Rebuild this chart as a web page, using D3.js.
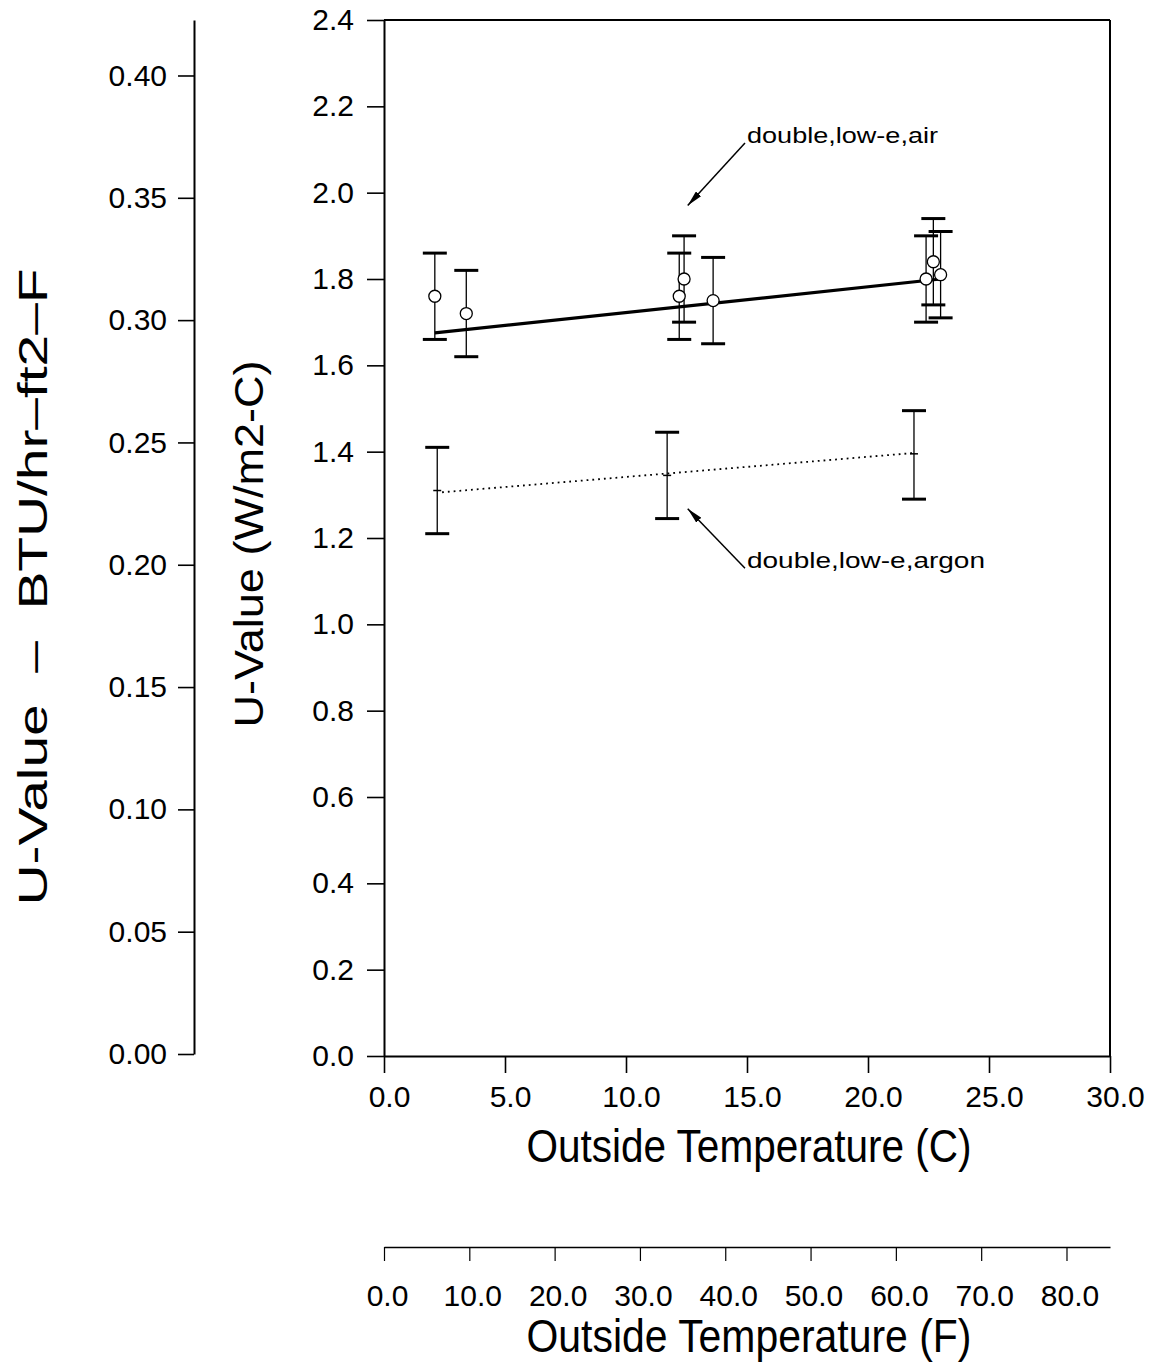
<!DOCTYPE html>
<html>
<head>
<meta charset="utf-8">
<script src="https://cdn.jsdelivr.net/npm/d3@7"></script>
<style>
  body { margin: 0; background: #fff; }
  text { font-family: "Liberation Sans", Arial, sans-serif; fill: #000; }
</style>
</head>
<body>
<div id="chart"></div>
<script>
// measured points, double glazing low-e with air fill
const airTempC = [2.1, 3.4, 12.2, 12.4, 13.6, 22.4, 22.7, 23.0];
const airU     = [1.76, 1.72, 1.76, 1.80, 1.75, 1.80, 1.84, 1.81];
const airLow   = [1.66, 1.62, 1.66, 1.70, 1.65, 1.70, 1.74, 1.71];
const airHigh  = [1.86, 1.82, 1.86, 1.90, 1.85, 1.90, 1.94, 1.91];
const airFitT  = [2.1, 23.0];
const airFitU  = [1.675, 1.80];

// double glazing low-e with argon fill
const argonTempC = [2.2, 11.7, 21.9];
const argonU     = [1.31, 1.345, 1.395];
const argonLow   = [1.21, 1.245, 1.29];
const argonHigh  = [1.41, 1.445, 1.495];
const argonFitT  = [2.4, 21.9];
const argonFitU  = [1.306, 1.397];

const tempCTicks = [0, 5, 10, 15, 20, 25, 30];
const tempFTicks = [0, 10, 20, 30, 40, 50, 60, 70, 80];
const uTicks = [0, 0.2, 0.4, 0.6, 0.8, 1.0, 1.2, 1.4, 1.6, 1.8, 2.0, 2.2, 2.4];
const btuTicks = [0, 0.05, 0.10, 0.15, 0.20, 0.25, 0.30, 0.35, 0.40];

const labelText = ["double,low-e,air", "double,low-e,argon"];
const labelAtT  = [15.0, 15.0];
const labelAtU  = [2.115, 1.13];
const arrowToT  = [12.55, 12.55];
const arrowToU  = [1.97, 1.268];

const W_PER_BTU = 5.678;

const width = 1164, height = 1363;

const svg = d3.select("#chart").append("svg")
    .attr("width", width)
    .attr("height", height)
    .style("background", "#fff");

const x = d3.scaleLinear().domain([0, 30]).range([384, 1110]);
const y = d3.scaleLinear().domain([0, 2.4]).range([1056, 20]);
const yBtu = d3.scaleLinear().domain([0, 2.4 / W_PER_BTU]).range([1054, 20]);
const xF = d3.scaleLinear().domain([0, 85.1]).range([384, 1110]);

function styleAxis(g, size) {
    g.select(".domain").attr("stroke", "#000").attr("stroke-width", 2);
    g.selectAll(".tick line").attr("stroke", "#000").attr("stroke-width", 1.6);
    g.selectAll(".tick text")
        .style("font-family", "'Liberation Sans', Arial, sans-serif")
        .style("font-size", size + "px")
        .attr("fill", "#000");
}

// main U axis (W/m2-C)
svg.append("g")
    .attr("transform", `translate(${x(0)},0)`)
    .call(d3.axisLeft(y).tickValues(uTicks).tickFormat(d3.format(".1f"))
        .tickSize(17).tickSizeOuter(0).tickPadding(13))
    .call(g => styleAxis(g, 30));

// temperature C axis
svg.append("g")
    .attr("transform", `translate(0,${y(0)})`)
    .call(d3.axisBottom(x).tickValues(tempCTicks).tickFormat(d3.format(".1f"))
        .tickSize(17).tickSizeOuter(0).tickPadding(13))
    .call(g => styleAxis(g, 30))
    .call(g => g.selectAll(".tick text").attr("dx", 5));

// top and right frame
svg.append("line")
    .attr("x1", x(0)).attr("x2", x(30))
    .attr("y1", y(2.4)).attr("y2", y(2.4))
    .attr("stroke", "#000").attr("stroke-width", 2);
svg.append("line")
    .attr("x1", x(30)).attr("x2", x(30))
    .attr("y1", y(2.4)).attr("y2", y(0))
    .attr("stroke", "#000").attr("stroke-width", 2);

// BTU axis on far left
svg.append("g")
    .attr("transform", "translate(194,0)")
    .call(d3.axisLeft(yBtu).tickValues(btuTicks).tickFormat(d3.format(".2f"))
        .tickSize(16).tickSizeOuter(0).tickPadding(11))
    .call(g => styleAxis(g, 30));

// temperature F axis underneath
svg.append("g")
    .attr("transform", "translate(0,1247)")
    .call(d3.axisBottom(xF).tickValues(tempFTicks).tickFormat(d3.format(".1f"))
        .tickSize(14).tickSizeOuter(0).tickPadding(24))
    .call(g => styleAxis(g, 30))
    .call(g => g.select(".domain").attr("stroke-width", 1.4))
    .call(g => g.selectAll(".tick line").attr("stroke-width", 1.2))
    .call(g => g.selectAll(".tick text").attr("dx", 3));

// axis titles
svg.append("text")
    .attr("x", 749).attr("y", 1162)
    .attr("text-anchor", "middle")
    .attr("textLength", 445).attr("lengthAdjust", "spacingAndGlyphs")
    .style("font-size", "46px")
    .text("Outside Temperature (C)");

svg.append("text")
    .attr("x", 749).attr("y", 1352)
    .attr("text-anchor", "middle")
    .attr("textLength", 445).attr("lengthAdjust", "spacingAndGlyphs")
    .style("font-size", "46px")
    .text("Outside Temperature (F)");

svg.append("text")
    .attr("transform", "translate(263,544) rotate(-90)")
    .attr("text-anchor", "middle")
    .attr("textLength", 367).attr("lengthAdjust", "spacingAndGlyphs")
    .style("font-size", "40px")
    .text("U-Value (W/m2-C)");

svg.append("text")
    .attr("transform", "translate(47,587) rotate(-90)")
    .attr("text-anchor", "middle")
    .attr("textLength", 637).attr("lengthAdjust", "spacingAndGlyphs")
    .style("font-size", "40px")
    .style("white-space", "pre")
    .text("U-Value  \u2013  BTU/hr\u2013ft2\u2013F");

// fitted lines
const airFit = airFitT.map((t, i) => ({t: t, u: airFitU[i]}));
const argonFit = argonFitT.map((t, i) => ({t: t, u: argonFitU[i]}));
const line = d3.line().x(d => x(d.t)).y(d => y(d.u));

svg.append("path")
    .datum(airFit)
    .attr("d", line)
    .attr("fill", "none")
    .attr("stroke", "#000")
    .attr("stroke-width", 3.2);

svg.append("path")
    .datum(argonFit)
    .attr("d", line)
    .attr("fill", "none")
    .attr("stroke", "#000")
    .attr("stroke-width", 1.8)
    .attr("stroke-dasharray", "1.8,4");

// error bars
const air = airTempC.map((t, i) => ({t: t, u: airU[i], lo: airLow[i], hi: airHigh[i]}));
const argon = argonTempC.map((t, i) => ({t: t, u: argonU[i], lo: argonLow[i], hi: argonHigh[i]}));
const capHalf = 12;

function errorBars(data, cls) {
    const g = svg.append("g").attr("class", cls);
    g.selectAll(".whisker")
        .data(data)
        .enter()
        .append("line")
        .attr("x1", d => x(d.t)).attr("x2", d => x(d.t))
        .attr("y1", d => y(d.lo)).attr("y2", d => y(d.hi))
        .attr("stroke", "#000").attr("stroke-width", 1.3);
    ["lo", "hi"].forEach(k => {
        g.selectAll(".cap-" + k)
            .data(data)
            .enter()
            .append("line")
            .attr("x1", d => x(d.t) - capHalf).attr("x2", d => x(d.t) + capHalf)
            .attr("y1", d => y(d[k])).attr("y2", d => y(d[k]))
            .attr("stroke", "#000").attr("stroke-width", 3);
    });
    return g;
}

errorBars(air, "air")
    .selectAll("circle")
    .data(air)
    .enter()
    .append("circle")
    .attr("cx", d => x(d.t))
    .attr("cy", d => y(d.u))
    .attr("r", 6)
    .attr("fill", "#fff")
    .attr("stroke", "#000")
    .attr("stroke-width", 1.3);

errorBars(argon, "argon")
    .selectAll(".mid")
    .data(argon)
    .enter()
    .append("line")
    .attr("x1", d => x(d.t) - 4).attr("x2", d => x(d.t) + 4)
    .attr("y1", d => y(d.u)).attr("y2", d => y(d.u))
    .attr("stroke", "#000").attr("stroke-width", 1.5);

// annotations with arrows
svg.append("defs").append("marker")
    .attr("id", "arrow")
    .attr("viewBox", "0 0 16 7")
    .attr("refX", 16).attr("refY", 3.5)
    .attr("markerWidth", 16).attr("markerHeight", 7)
    .attr("markerUnits", "userSpaceOnUse")
    .attr("orient", "auto")
    .append("path")
    .attr("d", "M0,0 L16,3.5 L0,7 Z")
    .attr("fill", "#000");

labelText.forEach((txt, i) => {
    svg.append("line")
        .attr("x1", x(labelAtT[i]) - 2).attr("y1", y(labelAtU[i]))
        .attr("x2", x(arrowToT[i])).attr("y2", y(arrowToU[i]))
        .attr("stroke", "#000").attr("stroke-width", 1.5)
        .attr("marker-end", "url(#arrow)");
    svg.append("text")
        .attr("x", x(labelAtT[i])).attr("y", y(labelAtU[i]))
        .attr("textLength", i === 0 ? 191 : 238)
        .attr("lengthAdjust", "spacingAndGlyphs")
        .style("font-size", "22px")
        .text(txt);
});
</script>
</body>
</html>
